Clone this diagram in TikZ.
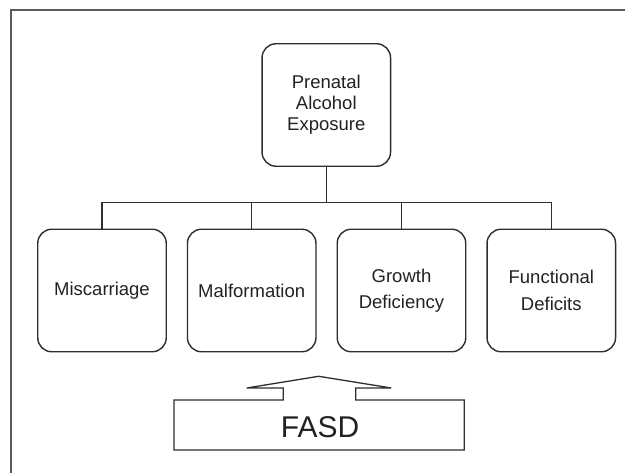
\documentclass[tikz,border=0pt]{standalone}
\usepackage{fontspec}
\setmainfont{Liberation Sans}
\definecolor{linec}{HTML}{2E2E2E}
\definecolor{framec}{HTML}{5A5A5A}
\definecolor{textc}{HTML}{222222}
\begin{document}
\begin{tikzpicture}[x=1pt,y=-1pt,
  box/.style={draw=linec, line width=1.4pt, rounded corners=14pt, minimum width=128.5pt, minimum height=122.5pt, inner sep=0pt, align=center, text=textc},
  topbox/.style={box, font=\fontsize{18.5}{21}\selectfont},
  botbox/.style={box, font=\fontsize{18.5}{26.5}\selectfont},
  conn/.style={draw=linec, line width=1.4pt},
  fasdshape/.style={draw=linec, line width=1.3pt, line join=miter}]
\useasboundingbox (0,0) rectangle (625,473);
\fill[white] (0,0) rectangle (625,473);
% frame
\draw[framec, line width=1.8pt] (11,475) -- (11,10) -- (627,10);
% nodes
\node[topbox] (top) at (326.3,105) {Prenatal\\Alcohol\\Exposure};
\node[botbox] (b1) at (102,290.5) {Miscarriage};
\node[botbox] (b2) at (251.7,290.5) {Malformation};
\node[botbox] (b3) at (401.5,290.5) {Growth\\Deficiency};
\node[botbox] (b4) at (551.3,290.5) {Functional\\Deficits};
\coordinate (bus) at (326.3,202.7);
% connectors
\draw[conn] (top.south) -- (bus);
\draw[conn] (b1.north) -- (b1.north |- bus) -- (b4.north |- bus) -- (b4.north);
\draw[conn] (b2.north) -- (b2.north |- bus);
\draw[conn] (b3.north) -- (b3.north |- bus);
% FASD arrow shape
\draw[fasdshape] (174,400) -- (283.3,400) -- (283.3,388) -- (246.7,388) -- (318.7,376.3) -- (391.3,388) -- (355.7,388) -- (355.7,400) -- (464.3,400) -- (464.3,450) -- (174,450) -- cycle;
\node[text=textc, font=\fontsize{30}{36}\selectfont, inner sep=0pt] (fasd) at (320,427.5) {FASD};
\end{tikzpicture}
\end{document}
